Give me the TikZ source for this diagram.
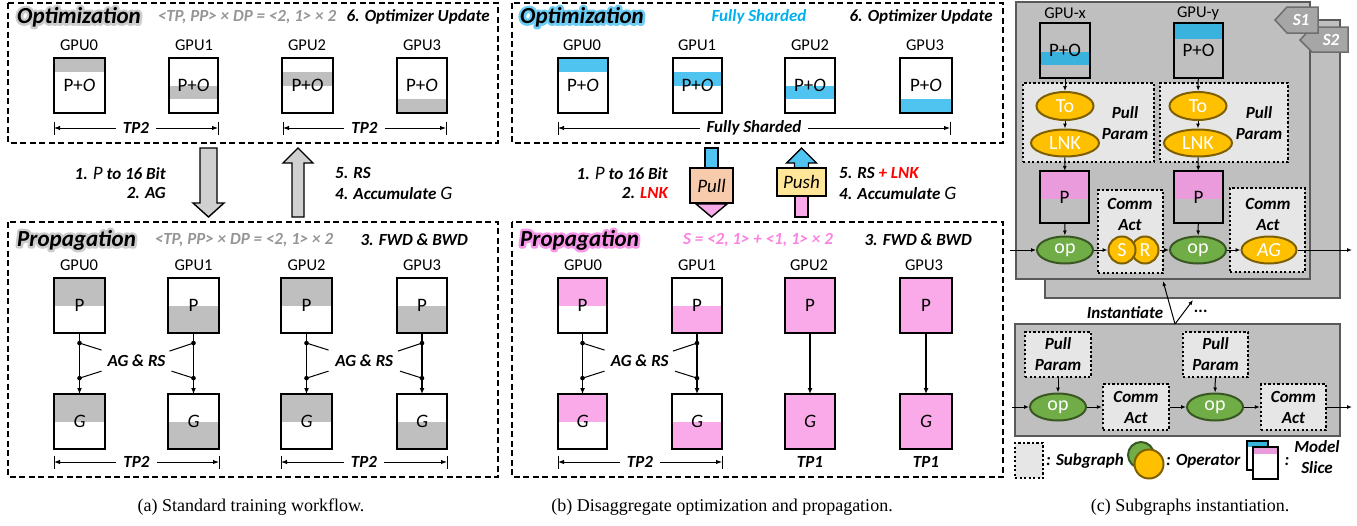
\documentclass[tikz,border=0pt]{standalone}
\usepackage{fontspec}
\setmainfont{Carlito}
\newfontfamily\capfont{Liberation Serif}
\usetikzlibrary{arrows.meta,calc,shapes.geometric}
\definecolor{sgray}{RGB}{191,191,191}
\definecolor{arrgray}{RGB}{208,208,208}
\definecolor{graytxt}{RGB}{150,150,150}
\definecolor{cyansl}{RGB}{80,196,240}
\definecolor{cyanglow}{RGB}{110,205,245}
\definecolor{grayglow}{RGB}{205,205,205}
\definecolor{cyantxt}{RGB}{0,176,240}
\definecolor{pinksl}{RGB}{250,170,232}
\definecolor{pinktxt}{RGB}{250,130,225}
\definecolor{pinkglow}{RGB}{248,150,232}
\definecolor{redtxt}{RGB}{255,0,0}
\definecolor{pullfill}{RGB}{248,203,173}
\definecolor{pushfill}{RGB}{255,230,153}
\definecolor{cgray}{RGB}{191,191,191}
\definecolor{cborder}{RGB}{89,89,89}
\definecolor{sgfill}{RGB}{230,230,230}
\definecolor{orfill}{RGB}{255,192,0}
\definecolor{ordraw}{RGB}{127,96,0}
\definecolor{grfill}{RGB}{112,173,71}
\definecolor{grdraw}{RGB}{56,87,35}
\definecolor{cpink}{RGB}{234,155,219}
\definecolor{ccyan}{RGB}{57,178,222}
\definecolor{tagfill}{RGB}{166,166,166}
\definecolor{tagdraw}{RGB}{110,110,110}
\tikzset{
  ttl/.style={font=\fontsize{23}{25}\selectfont\bfseries\itshape, inner sep=0pt},
  sub/.style={font=\fontsize{17}{21}\selectfont\bfseries\itshape, inner sep=0pt, align=center},
  gpul/.style={font=\fontsize{16.5}{18}\selectfont, inner sep=0pt},
  btxt/.style={font=\fontsize{19}{20}\selectfont, inner sep=0pt},
  panel/.style={line width=1.8pt, dash pattern=on 6pt off 3.5pt},
  bx/.style={line width=2.4pt},
  arr/.style={-{Latex[length=6pt,width=5pt]}, line width=1.3pt},
  carr/.style={-{Latex[length=5pt,width=4pt]}, line width=1pt},
  dimarr/.style={{Latex[length=6pt,width=4.5pt]}-{Latex[length=6pt,width=4.5pt]}, line width=1pt},
  tk/.style={line width=1pt},
  blk/.style={line width=1.4pt, line join=miter},
  cbox/.style={draw=cborder, fill=cgray, line width=2.6pt},
  subg/.style={draw=black, fill=sgfill, line width=2.3pt, dash pattern=on 2.3pt off 2.2pt, inner sep=0pt, align=center, font=\fontsize{17}{21}\selectfont\bfseries\itshape},
  ellO/.style={ellipse, draw=ordraw, fill=orfill, line width=2pt, inner sep=0pt, text=white, font=\fontsize{20}{20}\selectfont},
  ellG/.style={ellipse, draw=grdraw, fill=grfill, line width=2pt, inner sep=0pt, text=white, font=\fontsize{20}{20}\selectfont, minimum width=56pt, minimum height=27pt},
  tagt/.style={text=white, font=\fontsize{17}{18}\selectfont\bfseries\itshape, inner sep=0pt},
  blkbox/.style={draw, line width=1.4pt, inner sep=0pt, font=\fontsize{19}{20}\selectfont\itshape},
}
\newcommand\gbox[9]{%
  \node[inner sep=0pt,outer sep=0pt,minimum width=#4pt-#2pt,minimum height=#5pt-#3pt] (#1) at ({(#2+#4)/2},{(#3+#5)/2}) {};
  \fill[#6] (#2,#7) rectangle (#4,#8);
  \draw[bx] (#1.north west) rectangle (#1.south east);
  \node[btxt] (#1t) at (#1.center) {#9};
}
% glow: one stroked copy behind the text (text rendering mode 2)
\newcommand\glowtxt[2]{%
  \rlap{\textcolor{#1}{\special{pdf:literal direct 2 Tr 5 w 1 j 1 J}#2\special{pdf:literal direct 0 Tr 1 w}}}#2}
\newcommand\dimline[5]{%
  \coordinate (#1l) at (#2,#4); \coordinate (#1r) at (#3,#4);
  \coordinate (#1la) at (#2,#4-6.5); \coordinate (#1lb) at (#2,#4+6.5);
  \coordinate (#1ra) at (#3,#4-6.5); \coordinate (#1rb) at (#3,#4+6.5);
  \draw[tk] (#1la) -- (#1lb);
  \draw[tk] (#1ra) -- (#1rb);
  \draw[dimarr] (#1l) -- (#1r);
  \node[sub,fill=white,inner xsep=7pt,inner ysep=1pt] (#1t) at ($(#1l)!0.5!(#1r)$) {#5};
}
\newcommand\agrs[5]{%
  \draw[arr] (#2) -- (#3);
  \draw[arr] (#4) -- (#5);
  \path (#2.south) -- (#3.north) coordinate[pos=0.165] (#1a) coordinate[pos=0.74] (#1b);
  \path (#4.south) -- (#5.north) coordinate[pos=0.165] (#1c) coordinate[pos=0.74] (#1d);
  \node[sub] (#1t) at ($(#1a)!0.5!(#1d)$) {AG \& RS};
  \coordinate (#1ae) at ($(#1a)+(22,7)$);
  \coordinate (#1be) at ($(#1b)+(22,-7)$);
  \coordinate (#1ce) at ($(#1c)+(-24,8)$);
  \coordinate (#1de) at ($(#1d)+(-22,-7)$);
  \draw[tk] (#1a) -- (#1ae); \draw[tk] (#1b) -- (#1be);
  \draw[tk] (#1c) -- (#1ce); \draw[tk] (#1d) -- (#1de);
  \fill (#1a) circle (2.3pt); \fill (#1b) circle (2.3pt);
  \fill (#1c) circle (2.3pt); \fill (#1d) circle (2.3pt);
}
\begin{document}
\begin{tikzpicture}[x=1pt,y=-1pt]
\useasboundingbox (0,0) rectangle (1357,525);
% ================= panel (a) =================
\draw[panel] (8,3) rectangle (498,143);
\node[ttl,anchor=west] (at) at (17,17) {\glowtxt{grayglow}{Optimization}};
\node[sub,text=graytxt] (aform) at (247,17) {<TP, PP> × DP = <2, 1> × 2};
\node[sub,anchor=east] (aupd) at (490,17) {6. Optimizer Update};
\node[gpul] (la0) at (79,45) {GPU0};
\node[gpul] (la1) at (194,45) {GPU1};
\node[gpul] (la2) at (307,45) {GPU2};
\node[gpul] (la3) at (422,45) {GPU3};
\gbox{ao0}{54}{58}{105}{113}{sgray}{58}{71.75}{P+\textit{O}}
\gbox{ao1}{169}{58}{218}{113}{sgray}{85.5}{99.25}{P+\textit{O}}
\gbox{ao2}{282}{58}{333}{113}{sgray}{71.75}{85.5}{P+\textit{O}}
\gbox{ao3}{397}{58}{447}{113}{sgray}{99.25}{113}{P+\textit{O}}
\dimline{adt1}{54}{218}{128}{TP2}
\dimline{adt2}{283}{446}{128}{TP2}
% block arrows
\filldraw[blk,fill=arrgray] (200,148) -- (217,148) -- (217,203) -- (224,203) -- (208.5,217) -- (193,203) -- (200,203) -- cycle;
\filldraw[blk,fill=arrgray] (298,148) -- (313,163) -- (304,163) -- (304,217) -- (292,217) -- (292,163) -- (283,163) -- cycle;
\node[sub,anchor=east] (a1) at (166,173) {1. {\mdseries\fontsize{19}{19}\selectfont P} to 16 Bit};
\node[sub,anchor=east] (a2) at (166,193) {2. AG};
\node[sub,anchor=west] (a5) at (335,173) {5. RS};
\node[sub,anchor=west] (a4) at (335,193) {4. Accumulate {\mdseries\fontsize{19}{19}\selectfont G}};
% propagation
\draw[panel] (8,222) rectangle (498,477);
\node[ttl,anchor=west] (ap) at (17,240) {\glowtxt{grayglow}{Propagation}};
\node[sub,text=graytxt] (apform) at (244,240) {<TP, PP> × DP = <2, 1> × 2};
\node[sub,anchor=east] (afb) at (468,240) {3. FWD \& BWD};
\node[gpul] (lb0) at (79,265) {GPU0};
\node[gpul] (lb1) at (193.5,265) {GPU1};
\node[gpul] (lb2) at (306.5,265) {GPU2};
\node[gpul] (lb3) at (422,265) {GPU3};
\gbox{ap0}{54}{278}{105}{333}{sgray}{278}{305.5}{P}
\gbox{ap1}{168}{278}{219}{333}{sgray}{305.5}{333}{P}
\gbox{ap2}{281}{278}{332}{333}{sgray}{278}{305.5}{P}
\gbox{ap3}{397}{278}{447}{333}{sgray}{305.5}{333}{P}
\gbox{ag0}{54}{394}{105}{449}{sgray}{394}{421.5}{\textit{G}}
\gbox{ag1}{168}{394}{219}{449}{sgray}{421.5}{449}{\textit{G}}
\gbox{ag2}{281}{394}{332}{449}{sgray}{394}{421.5}{\textit{G}}
\gbox{ag3}{397}{394}{447}{449}{sgray}{421.5}{449}{\textit{G}}
\agrs{aL}{ap0}{ag0}{ap1}{ag1}
\agrs{aR}{ap2}{ag2}{ap3}{ag3}
\dimline{adb1}{54}{219}{462}{TP2}
\dimline{adb2}{281}{447}{462}{TP2}
% ================= panel (b) =================
\draw[panel] (512,3) rectangle (1003,143);
\node[ttl,anchor=west] (bt) at (520,17) {\glowtxt{cyanglow}{Optimization}};
\node[sub,text=cyantxt] (bfs) at (759,17) {Fully Sharded};
\node[sub,anchor=east] (bupd) at (993,17) {6. Optimizer Update};
\node[gpul] (lc0) at (582,45) {GPU0};
\node[gpul] (lc1) at (697,45) {GPU1};
\node[gpul] (lc2) at (810,45) {GPU2};
\node[gpul] (lc3) at (925,45) {GPU3};
\gbox{bo0}{558}{58}{608}{113}{cyansl}{58}{71.75}{P+\textit{O}}
\gbox{bo1}{673}{58}{722}{113}{cyansl}{71.75}{85.5}{P+\textit{O}}
\gbox{bo2}{785}{58}{835}{113}{cyansl}{85.5}{99.25}{P+\textit{O}}
\gbox{bo3}{900}{58}{952}{113}{cyansl}{99.25}{113}{P+\textit{O}}
\dimline{bdt}{558}{950}{128}{Fully Sharded}
% pull / push
\filldraw[blk,fill=cyansl] (705,148) rectangle (718,168);
\filldraw[blk,fill=pinksl] (696,204) -- (727,204) -- (711.5,217) -- cycle;
\node[blkbox,fill=pullfill,minimum width=43pt,minimum height=35pt] (pull) at (711.5,185.5) {Pull};
\filldraw[blk,fill=pinksl] (795,196) rectangle (808,217);
\filldraw[blk,fill=cyansl] (801.5,148) -- (816.5,163) -- (808.5,163) -- (808.5,168) -- (794.5,168) -- (794.5,163) -- (786.5,163) -- cycle;
\node[blkbox,fill=pushfill,minimum width=49pt,minimum height=28pt] (push) at (801.5,182) {Push};
\node[sub,anchor=east] (b1) at (668,173) {1. {\mdseries\fontsize{19}{19}\selectfont P} to 16 Bit};
\node[sub,anchor=east] (b2) at (668,193) {2. \textcolor{redtxt}{LNK}};
\node[sub,anchor=west] (b5) at (839,173) {5. RS \textcolor{redtxt}{+ LNK}};
\node[sub,anchor=west] (b4) at (839,193) {4. Accumulate {\mdseries\fontsize{19}{19}\selectfont G}};
% propagation
\draw[panel] (512,222) rectangle (1003,477);
\node[ttl,anchor=west] (bp) at (520,240) {\glowtxt{pinkglow}{Propagation}};
\node[sub,text=pinktxt] (bform) at (758,240) {S = <2, 1> + <1, 1> × 2};
\node[sub,anchor=east] (bfb) at (972,240) {3. FWD \& BWD};
\node[gpul] (ld0) at (583,265) {GPU0};
\node[gpul] (ld1) at (697,265) {GPU1};
\node[gpul] (ld2) at (809,265) {GPU2};
\node[gpul] (ld3) at (924,265) {GPU3};
\gbox{bp0}{558}{278}{607}{333}{pinksl}{278}{305.5}{P}
\gbox{bp1}{672}{278}{722}{333}{pinksl}{305.5}{333}{P}
\gbox{bp2}{785}{278}{835}{333}{pinksl}{278}{333}{P}
\gbox{bp3}{900}{278}{952}{333}{pinksl}{278}{333}{P}
\gbox{bg0}{558}{394}{607}{449}{pinksl}{394}{421.5}{\textit{G}}
\gbox{bg1}{672}{394}{722}{449}{pinksl}{421.5}{449}{\textit{G}}
\gbox{bg2}{785}{394}{835}{449}{pinksl}{394}{449}{\textit{G}}
\gbox{bg3}{900}{394}{952}{449}{pinksl}{394}{449}{\textit{G}}
\agrs{bL}{bp0}{bg0}{bp1}{bg1}
\draw[arr] (bp2) -- (bg2);
\draw[arr] (bp3) -- (bg3);
\dimline{bdb}{558}{722}{462}{TP2}
\node[sub] (tp1a) at (810,462) {TP1};
\node[sub] (tp1b) at (926,462) {TP1};
% ================= panel (c) =================
\filldraw[cbox] (1045,20) rectangle (1340,298);
\filldraw[cbox] (1016,2) rectangle (1310,279);
\filldraw[fill=tagfill,draw=tagdraw,line width=1.5pt] (1300,40) -- (1312,27) -- (1348,27) -- (1348,52) -- (1312,52) -- cycle;
\node[tagt] (s2) at (1331,40) {S2};
\filldraw[fill=tagfill,draw=tagdraw,line width=1.5pt] (1275,20) -- (1287,7) -- (1318,7) -- (1318,33) -- (1287,33) -- cycle;
\node[tagt] (s1) at (1301,20) {S1};
\node[gpul] (lx) at (1065,13) {GPU-x};
\node[gpul] (ly) at (1198,13) {GPU-y};
\gbox{gx}{1040}{23}{1090}{78}{ccyan}{52}{65}{P+O}
\gbox{gy}{1174}{23}{1223}{78}{ccyan}{23}{39}{P+O}
\node[subg,minimum width=131pt,minimum height=79pt] (pp1) at (1088.5,122.5) {};
\node[subg,minimum width=128pt,minimum height=79pt] (pp2) at (1224,122.5) {};
\node[sub] (pp1t) at (1125,123) {Pull\\Param};
\node[sub] (pp2t) at (1259,123) {Pull\\Param};
\node[ellO,minimum width=57pt,minimum height=28pt] (to1) at (1065,106) {To};
\node[ellO,minimum width=68pt,minimum height=27pt] (lnk1) at (1065,143) {LNK};
\node[ellO,minimum width=57pt,minimum height=28pt] (to2) at (1198,106) {To};
\node[ellO,minimum width=68pt,minimum height=27pt] (lnk2) at (1198,143) {LNK};
\gbox{px}{1040}{171}{1089}{223}{cpink}{171}{199}{P}
\gbox{py}{1174}{171}{1223}{223}{cpink}{171}{199}{P}
\node[subg,minimum width=65pt,minimum height=83pt] (ca1) at (1130.5,231.5) {};
\node[sub] (ca1t) at (1130,214) {Comm\\Act};
\node[subg,minimum width=75pt,minimum height=84pt] (ca2) at (1267.5,230) {};
\node[sub] (ca2t) at (1268,214) {Comm\\Act};
\node[ellG] (op1) at (1065,250) {op};
\node[ellG] (op2) at (1198,250) {op};
\node[circle,draw=ordraw,fill=orfill,line width=2pt,inner sep=0pt,minimum size=27pt,text=white,font=\fontsize{20}{20}\selectfont] (R) at (1145,250) {R};
\node[circle,draw=ordraw,fill=orfill,line width=2pt,inner sep=0pt,minimum size=27pt,text=white,font=\fontsize{20}{20}\selectfont] (S) at (1122,250) {S};
\node[ellO,minimum width=55pt,minimum height=27pt] (agn) at (1269,250) {\textit{AG}};
\draw[carr] (gx) -- (to1);
\draw[carr] (to1) -- (lnk1);
\draw[carr] (lnk1) -- (px);
\draw[carr] (px) -- (op1);
\draw[carr] (gy) -- (to2);
\draw[carr] (to2) -- (lnk2);
\draw[carr] (lnk2) -- (py);
\draw[carr] (py) -- (op2);
\coordinate (cin) at (1010,250);
\coordinate (cout) at (1352,250);
\draw[carr] (cin) -- (op1);
\draw[carr] (op1) -- (S);
\draw[carr] (R) -- (op2);
\draw[carr] (op2) -- (agn);
\draw[carr] (agn) -- (cout);
% instantiate
\filldraw[cbox] (1015,324) rectangle (1340,436);
\coordinate (ia) at (1175,324);
\coordinate (ib) at (1163,281);
\coordinate (ic) at (1193,300);
\draw[carr] (ia) -- (ib);
\draw[carr] (ia) -- (ic);
\node[sub] (inst) at (1125,313) {Instantiate};
\node[sub] (dots) at (1201,311) {...};
\node[subg,minimum width=66pt,minimum height=45pt] (q1) at (1058,354.5) {Pull\\Param};
\node[subg,minimum width=65pt,minimum height=45pt] (q2) at (1215.5,354.5) {Pull\\Param};
\node[ellG] (op3) at (1058,407) {op};
\node[ellG] (op4) at (1215,407) {op};
\node[subg,minimum width=66pt,minimum height=46pt] (c1) at (1136,407) {Comm\\Act};
\node[subg,minimum width=65pt,minimum height=46pt] (c2) at (1293.5,407) {Comm\\Act};
\coordinate (din) at (1012,407);
\coordinate (dout) at (1352,407);
\draw[carr] (din) -- (op3);
\draw[carr] (op3) -- (c1);
\draw[carr] (c1) -- (op4);
\draw[carr] (op4) -- (c2);
\draw[carr] (c2) -- (dout);
\draw[carr] (q1) -- (op3);
\draw[carr] (q2) -- (op4);
% legend
\node[subg,minimum width=28pt,minimum height=35pt] (lsg) at (1029,460.5) {};
\node[sub,anchor=west] (lsgt) at (1046,461) {: Subgraph};
\node[circle,fill=grfill,draw=grdraw,line width=2pt,minimum size=26pt,inner sep=0pt] (lg) at (1141,455) {};
\node[circle,fill=orfill,draw=ordraw,line width=2pt,minimum size=29pt,inner sep=0pt] (lo) at (1149,464) {};
\node[sub,anchor=west] (lopt) at (1166,461) {: Operator};
\fill[white] (1247,441) rectangle (1268,470);
\fill[ccyan] (1247,441) rectangle (1268,447);
\draw[line width=2.2pt] (1247,441) rectangle (1268,470);
\fill[white] (1253,447) rectangle (1278,479);
\fill[cpink] (1253,447) rectangle (1278,454);
\draw[line width=2.2pt] (1253,447) rectangle (1278,479);
\node[sub] (colon) at (1287,462) {:};
\node[sub] (ms) at (1317,457.5) {Model\\Slice};
% captions
\node[font=\capfont\fontsize{18}{20}\selectfont,inner sep=0pt] (capa) at (251,507) {(a) Standard training workflow.};
\node[font=\capfont\fontsize{18}{20}\selectfont,inner sep=0pt] (capb) at (722,507) {(b) Disaggregate optimization and propagation.};
\node[font=\capfont\fontsize{18}{20}\selectfont,inner sep=0pt] (capc) at (1190,507) {(c) Subgraphs instantiation.};
\end{tikzpicture}
\end{document}
